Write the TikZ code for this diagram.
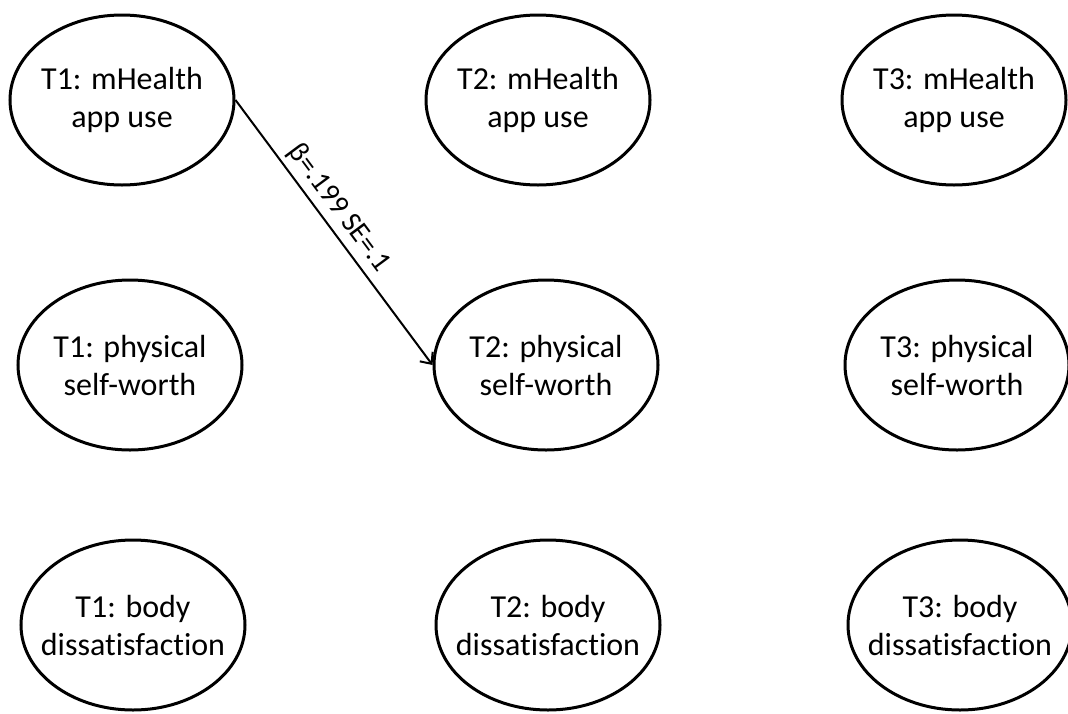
\documentclass[tikz,border=0pt]{standalone}
\usepackage{fontspec}
\setmainfont{Carlito}[Ligatures=NoCommon]
\usetikzlibrary{shapes.geometric,arrows.meta}

\tikzset{
  var/.style={ellipse, draw, line width=3pt, minimum width=224pt,
    minimum height=170pt, inner sep=0pt},
  vartext/.style={align=center, font=\fontsize{32}{38}\selectfont, inner sep=0pt},
  path/.style={line width=2pt, -{Straight Barb[length=9pt,width=16pt,line width=2pt]}},
  coef/.style={font=\fontsize{29}{34}\selectfont, sloped, above, inner sep=5pt}
}

\begin{document}
\begin{tikzpicture}[x=1pt, y=-1pt]
  \useasboundingbox (0,0) rectangle (1068,713);

  % wave 1
  \node[var, label={[vartext]center:{T1: mHealth\\app use}}] (m1) at (122,100) {};
  \node[var, label={[vartext]center:{T1: physical\\self-worth}}] (p1) at (130,365) {};
  \node[var, label={[vartext]center:{T1: body\\dissatisfaction}}] (b1) at (133,625) {};

  % wave 2
  \node[var, label={[vartext]center:{T2: mHealth\\app use}}] (m2) at (538,100) {};
  \node[var, label={[vartext]center:{T2: physical\\self-worth}}] (p2) at (546,365) {};
  \node[var, label={[vartext]center:{T2: body\\dissatisfaction}}] (b2) at (548,625) {};

  % wave 3
  \node[var, label={[vartext]center:{T3: mHealth\\app use}}] (m3) at (954,100) {};
  \node[var, label={[vartext]center:{T3: physical\\self-worth}}] (p3) at (957,365) {};
  \node[var, label={[vartext]center:{T3: body\\dissatisfaction}}] (b3) at (960,625) {};

  % cross-lagged path
  \draw[path] (m1.east) -- node[coef, pos=0.45] {β=.199 SE=.1} (p2.west);
\end{tikzpicture}
\end{document}
